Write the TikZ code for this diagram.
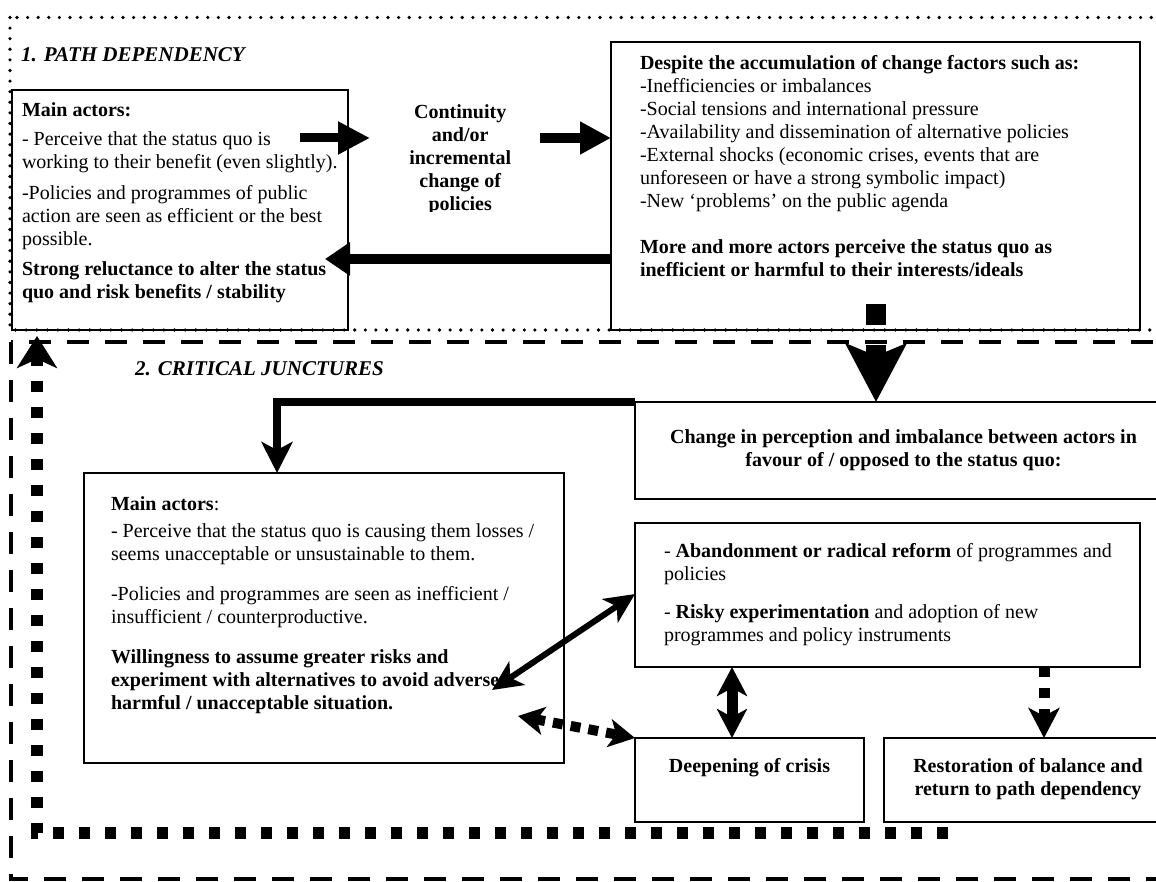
\documentclass[tikz,border=0pt]{standalone}
\usepackage{fontspec}
\setmainfont{Liberation Serif}
\usetikzlibrary{arrows.meta,calc}

% left-aligned panel text: width, height, left pad, top gap, content
\newcommand{\panel}[5]{%
  \begin{minipage}[c][#2][t]{#1}\raggedright\leftskip=#3\relax
  \vspace*{#4}\strut #5\end{minipage}}
% centred panel text: width, height, top gap, content
\newcommand{\cpanel}[4]{%
  \begin{minipage}[c][#2][t]{#1}\centering
  \vspace*{#3}\strut #4\end{minipage}}

\tikzset{
  panelbox/.style={draw, line width=1.6pt, inner sep=0pt, outer sep=0pt, anchor=north west},
  heading/.style={anchor=base west, inner sep=0pt, font=\fontsize{21}{24}\selectfont\bfseries\itshape},
  dotframe/.style={line width=3.6pt, line cap=round, dash pattern=on 0pt off 10.6pt},
  dashframe/.style={line width=4.5pt, dash pattern=on 22pt off 16pt},
}

\begin{document}
\begin{tikzpicture}[x=1pt, y=-1pt, font=\fontsize{20}{23}\selectfont]
\useasboundingbox (0,0) rectangle (1156,882);
\fill[white] (0,0) rectangle (1156,882);
\clip (0,0) rectangle (1156,882);

% section frames
\draw[dotframe] (10,17.5) rectangle (1185,330);
\draw[dashframe] (11,342) rectangle (1185,879);

% headings
\node[heading] (h1) at (21,62) {1. PATH DEPENDENCY};
\node[heading] (h2) at (135,375) {2. CRITICAL JUNCTURES};

% 1. path dependency
\node[panelbox] (A) at (12,90) {\panel{336pt}{240pt}{10pt}{10.9pt}{%
  \textbf{Main actors:}\\[6pt]
  - Perceive that the status quo is\\
  working to their benefit (even slightly).\\[8pt]
  -Policies and programmes of public\\
  action are seen as efficient or the best\\
  possible.\\[7pt]
  \textbf{Strong reluctance to alter the status\\
  quo and risk benefits / stability}}};

\begin{scope}
  \clip (360,90) rectangle (560,212);
  \node[anchor=north west, inner sep=0pt] (cont) at (370,90) {\cpanel{180pt}{122pt}{11.9pt}{%
    \textbf{Continuity\\ and/or\\ incremental\\ change of\\ policies}}};
\end{scope}

\node[panelbox] (B) at (611,42) {\panel{529pt}{288pt}{29pt}{11.9pt}{%
  \textbf{Despite the accumulation of change factors such as:}\\
  -Inefficiencies or imbalances\\
  -Social tensions and international pressure\\
  -Availability and dissemination of alternative policies\\
  -External shocks (economic crises, events that are\\
  unforeseen or have a strong symbolic impact)\\
  -New ‘problems’ on the public agenda\\[23pt]
  \textbf{More and more actors perceive the status quo as\\
  inefficient or harmful to their interests/ideals}}};

% 2. critical junctures
\node[panelbox] (C) at (635,402) {\cpanel{537pt}{97pt}{25pt}{%
  \textbf{Change in perception and imbalance between actors in\\
  favour of / opposed to the status quo:}}};

\node[panelbox] (D) at (84,473) {\panel{480pt}{290pt}{27pt}{20.9pt}{%
  \textbf{Main actors}:\\[4pt]
  - Perceive that the status quo is causing them losses /\\
  seems unacceptable or unsustainable to them.\\[17pt]
  -Policies and programmes are seen as inefficient /\\
  insufficient / counterproductive.\\[17pt]
  \textbf{Willingness to assume greater risks and\\
  experiment with alternatives to avoid adverse\\
  harmful / unacceptable situation.}}};

\node[panelbox] (E) at (635,523) {\panel{505pt}{144pt}{29pt}{17.9pt}{%
  - \textbf{Abandonment or radical reform} of programmes and\\
  policies\\[15pt]
  - \textbf{Risky experimentation} and adoption of new\\
  programmes and policy instruments}};

\node[panelbox] (F) at (635,738) {\cpanel{229pt}{84pt}{18.5pt}{%
  \textbf{Deepening of crisis}}};

\node[panelbox] (G) at (884,738) {\cpanel{288pt}{84pt}{18.5pt}{%
  \textbf{Restoration of balance and\\ return to path dependency}}};

% connector end points
\coordinate (a1s) at (300,138);
\coordinate (a2s) at (540,138);
\coordinate (a3e) at (325,259);
\coordinate (elb) at (277,402);
\coordinate (sq)  at (876,304);
\coordinate (vx)  at (732,0);
\coordinate (vx2) at (1044,0);
\coordinate (sd)  at (492,690);
\coordinate (dd)  at (518,716);
\coordinate (rs)  at (948,833);
\coordinate (rc)  at (37,833);
\coordinate (re)  at (37,336);

% block arrows of the path-dependency loop
\draw[line width=9pt, -{Triangle[length=32pt,width=31pt]}] (a1s) -- (a1s -| cont.west);
\draw[line width=10pt, -{Triangle[length=31pt,width=31pt]}] (a2s) -- (a2s -| B.west);
\draw[line width=10pt, -{Triangle[length=25pt,width=32pt]}] (a3e -| B.west) -- (a3e);

% from path dependency into critical junctures
\draw[line width=20pt, dash pattern=on 21pt off 20pt,
      -{Stealth[length=58pt,width=60pt,inset=12pt]}] (sq) -- (sq |- C.north);
\draw[line width=8pt, -{Stealth[length=31pt,width=31pt,inset=8pt]}]
  (C.north west) -- (elb) -- (elb |- D.north);

% interactions between actors, reforms and crisis
\draw[line width=6pt, {Stealth[length=30pt,width=28pt,inset=8pt]}-{Stealth[length=30pt,width=28pt,inset=8pt]}]
  (sd) -- ($(E.north west)+(0,71)$);
\draw[line width=10pt, dash pattern=on 10pt off 8pt,
      {Stealth[length=26pt,width=28pt,inset=7pt]}-{Stealth[length=26pt,width=28pt,inset=7pt]}]
  (dd) -- (F.north west);
\draw[line width=11pt, {Stealth[length=29pt,width=30pt,inset=8pt]}-{Stealth[length=29pt,width=30pt,inset=8pt]}]
  (vx |- E.south) -- (vx |- F.north);
\draw[line width=11pt, dash pattern=on 10pt off 11pt,
      -{Stealth[length=30pt,width=31pt,inset=8pt]}] (vx2 |- E.south) -- (vx2 |- G.north);

% return to path dependency
\draw[line width=12pt, dash pattern=on 11pt off 15pt,
      -{Stealth[length=32pt,width=40pt,inset=9pt]}] (rs) -- (rc) -- (re);
\end{tikzpicture}
\end{document}
